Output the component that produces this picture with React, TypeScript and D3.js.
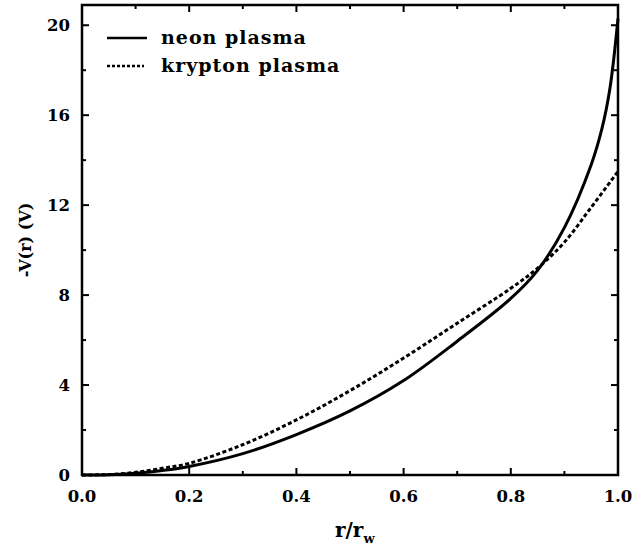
import React from "react";
import * as d3 from "d3";

// r / r_w positions and -V(r)
const neonR = [0, 0.05, 0.1, 0.15, 0.2, 0.3, 0.4, 0.5, 0.6, 0.7, 0.8, 0.85, 0.9, 0.95, 0.97, 0.985, 1.0];
const neonV = [0, 0.01, 0.08, 0.2, 0.38, 0.95, 1.8, 2.85, 4.2, 5.95, 7.85, 9.1, 11.0, 13.8, 15.4, 17.2, 20.3];

const kryptonR = [0, 0.05, 0.1, 0.15, 0.2, 0.3, 0.4, 0.5, 0.6, 0.7, 0.8, 0.85, 0.9, 0.95, 1.0];
const kryptonV = [0, 0.02, 0.12, 0.3, 0.52, 1.35, 2.45, 3.75, 5.2, 6.75, 8.3, 9.2, 10.35, 11.9, 13.5];

const xTicks = [0, 0.2, 0.4, 0.6, 0.8, 1.0];
const xMinor = [0.1, 0.3, 0.5, 0.7, 0.9];
const yTicks = [0, 4, 8, 12, 16, 20];
const yMinor = [2, 6, 10, 14, 18];

const legendLabels = ["neon plasma", "krypton plasma"];

const width = 634;
const height = 552;
const left = 82;
const right = 618;
const top = 5;
const bottom = 475;

const font = "'DejaVu Serif', serif";

export default function App() {
  const x = d3.scaleLinear().domain([0, 1]).range([left, right]);
  const y = d3.scaleLinear().domain([0, 20.9]).range([bottom, top]);

  const line = d3
    .line<[number, number]>()
    .x((d) => x(d[0]))
    .y((d) => y(d[1]))
    .curve(d3.curveCatmullRom.alpha(0.5));

  const neon = line(neonR.map((r, i) => [r, neonV[i]] as [number, number])) || "";
  const krypton = line(kryptonR.map((r, i) => [r, kryptonV[i]] as [number, number])) || "";

  return (
    <svg
      width={width}
      height={height}
      style={{ position: "absolute", left: 0, top: 0, background: "#fff" }}
    >
      {/* frame */}
      <rect x={left} y={top} width={right - left} height={bottom - top} fill="none" stroke="#000" strokeWidth={2.5} />

      {/* x ticks, bottom and top */}
      {xTicks.map((t) => (
        <g key={"xt" + t}>
          <line x1={x(t)} x2={x(t)} y1={bottom} y2={bottom - 7} stroke="#000" strokeWidth={2} />
          <line x1={x(t)} x2={x(t)} y1={top} y2={top + 7} stroke="#000" strokeWidth={2} />
          <text x={x(t)} y={502} textAnchor="middle" fontFamily={font} fontWeight="bold" fontSize={16.5}>
            {t.toFixed(1)}
          </text>
        </g>
      ))}
      {xMinor.map((t) => (
        <g key={"xm" + t}>
          <line x1={x(t)} x2={x(t)} y1={bottom} y2={bottom - 4} stroke="#000" strokeWidth={2} />
          <line x1={x(t)} x2={x(t)} y1={top} y2={top + 4} stroke="#000" strokeWidth={2} />
        </g>
      ))}

      {/* y ticks, left and right */}
      {yTicks.map((t) => (
        <g key={"yt" + t}>
          <line x1={left} x2={left + 7} y1={y(t)} y2={y(t)} stroke="#000" strokeWidth={2} />
          <line x1={right} x2={right - 7} y1={y(t)} y2={y(t)} stroke="#000" strokeWidth={2} />
          <text x={70} y={y(t) + 6} textAnchor="end" fontFamily={font} fontWeight="bold" fontSize={16.5}>
            {t}
          </text>
        </g>
      ))}
      {yMinor.map((t) => (
        <g key={"ym" + t}>
          <line x1={left} x2={left + 4} y1={y(t)} y2={y(t)} stroke="#000" strokeWidth={2} />
          <line x1={right} x2={right - 4} y1={y(t)} y2={y(t)} stroke="#000" strokeWidth={2} />
        </g>
      ))}

      {/* curves */}
      <path d={neon} fill="none" stroke="#000" strokeWidth={3} />
      <path d={krypton} fill="none" stroke="#000" strokeWidth={3} strokeDasharray="4 2.5" />

      {/* legend */}
      <line x1={107} x2={147} y1={38} y2={38} stroke="#000" strokeWidth={2.5} />
      <line x1={107} x2={144} y1={66} y2={66} stroke="#000" strokeWidth={2.5} strokeDasharray="3 2" />
      {legendLabels.map((l, i) => (
        <text key={l} x={161} y={44 + i * 28} fontFamily={font} fontWeight="bold" fontSize={19} letterSpacing={1}>
          {l}
        </text>
      ))}

      {/* axis labels */}
      <text x={335} y={537} fontFamily={font} fontWeight="bold" fontSize={20}>
        r/r<tspan fontSize={13} dy={6}>w</tspan>
      </text>
      <text
        transform="translate(31,240) rotate(-90)"
        textAnchor="middle"
        fontFamily={font}
        fontWeight="bold"
        fontSize={16}
      >
        -V(r) (V)
      </text>
    </svg>
  );
}
